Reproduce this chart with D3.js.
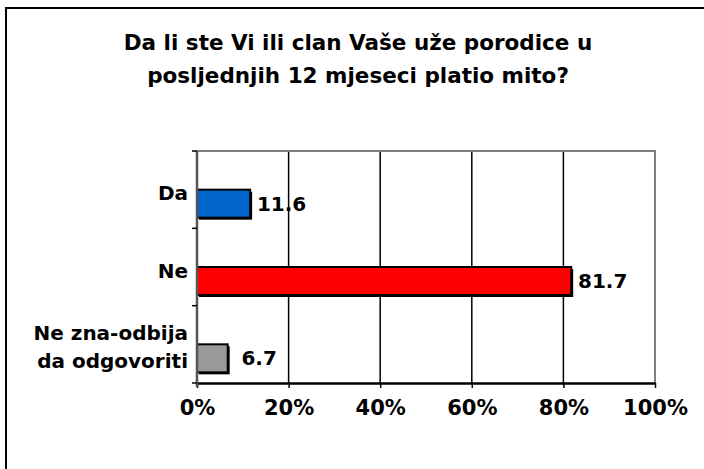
<!DOCTYPE html>
<html><head><meta charset="utf-8">
<script src="https://cdn.jsdelivr.net/npm/d3@7"></script>
<style>body{margin:0;background:#fff}svg{display:block}</style>
</head><body>
<script>
const titleLines = ["Da li ste Vi ili clan Vaše uže porodice u", "posljednjih 12 mjeseci platio mito?"];
const categories = ["Da", "Ne", "Ne zna-odbija\nda odgovoriti"];
const values = [11.6, 81.7, 6.7];
const colors = ["#0066CC", "#FF0000", "#999999"];
const tickValues = [0, 20, 40, 60, 80, 100];
const tickLabels = ["0%", "20%", "40%", "60%", "80%", "100%"];

const W = 704, H = 469;
const svg = d3.select("body").append("svg").attr("width", W).attr("height", H);
svg.append("rect").attr("width", W).attr("height", H).attr("fill", "#fff");
// outer frame (extends beyond view on right/bottom)
svg.append("rect").attr("x", 6).attr("y", 8).attr("width", 760).attr("height", 500)
  .attr("fill", "none").attr("stroke", "#000").attr("stroke-width", 2);

const m = {left: 197, right: 655, top: 151, bottom: 383};
const x = d3.scaleLinear().domain([0, 100]).range([m.left, m.right]);
const y = d3.scaleBand().domain(categories).range([m.top, m.bottom]).padding(0);

// title
const title = svg.append("text").attr("text-anchor", "middle")
  .attr("font-family", "'DejaVu Sans', Verdana, sans-serif")
  .attr("font-weight", "bold").attr("font-size", 21.5).attr("fill", "#000");
titleLines.forEach((t, i) => title.append("tspan").attr("x", 358).attr("y", 50 + i * 33).text(t));

// gridlines
svg.append("g").selectAll("line").data(tickValues.slice(1, -1)).join("line")
  .attr("x1", d => x(d)).attr("x2", d => x(d)).attr("y1", m.top).attr("y2", m.bottom)
  .attr("stroke", "#000").attr("stroke-width", 1.5);
// plot border top/right (gray)
svg.append("path").attr("d", `M${m.left},${m.top}H${m.right}V${m.bottom}`)
  .attr("fill", "none").attr("stroke", "#808080").attr("stroke-width", 2);

// bars with shadow
const bh = 28;
const bars = svg.append("g");
categories.forEach((c, i) => {
  const y0 = y(c) + y.bandwidth() / 2;
  bars.append("rect").attr("x", x(0) + 2).attr("y", y0 + 2).attr("width", x(values[i]) - x(0)).attr("height", bh)
    .attr("fill", "#000");
  bars.append("rect").attr("x", x(0)).attr("y", y0).attr("width", x(values[i]) - x(0)).attr("height", bh)
    .attr("fill", colors[i]).attr("stroke", "#000").attr("stroke-width", 2);
});

// bottom axis
const xAxis = d3.axisBottom(x).tickValues(tickValues).tickFormat((d, i) => tickLabels[i]).tickSize(5).tickSizeOuter(0);
const gx = svg.append("g").attr("transform", `translate(0,${m.bottom})`).call(xAxis);
gx.select(".domain").attr("stroke", "#000").attr("stroke-width", 2.5);
gx.selectAll(".tick line").attr("stroke", "#000").attr("stroke-width", 1.5);
gx.selectAll(".tick text").attr("font-family", "'DejaVu Sans', Verdana, sans-serif")
  .attr("font-weight", "bold").attr("font-size", 21).attr("fill", "#000").attr("dy", null).attr("y", 32);

// left axis
const gy = svg.append("g").attr("transform", `translate(${m.left},0)`);
gy.append("line").attr("x1", 0).attr("x2", 0).attr("y1", m.top).attr("y2", m.bottom + 4)
  .attr("stroke", "#555").attr("stroke-width", 2.5);
const bounds = [m.top, ...categories.map(c => y(c) + y.bandwidth())];
gy.selectAll(".tk").data(bounds).join("line").attr("class", "tk")
  .attr("x1", -5).attr("x2", 0).attr("y1", d => d).attr("y2", d => d)
  .attr("stroke", "#000").attr("stroke-width", 1.5);

// category labels
categories.forEach((c, i) => {
  const lines = c.split("\n");
  const cy = y(c) + y.bandwidth() / 2;
  const t = svg.append("text").attr("text-anchor", "end")
    .attr("font-family", "'DejaVu Sans', Verdana, sans-serif")
    .attr("font-weight", "bold").attr("font-size", 20).attr("fill", "#000");
  const off = lines.length === 1 ? 10.5 : 9.5;
  lines.forEach((l, j) => t.append("tspan").attr("x", 188)
    .attr("y", cy + off + (j - (lines.length - 1) / 2) * 28).text(l));
});

// value labels
categories.forEach((c, i) => {
  svg.append("text").attr("text-anchor", "middle")
    .attr("x", x(values[i]) + 31.5).attr("y", y(c) + y.bandwidth() / 2 + bh / 2 + 7)
    .attr("font-family", "'DejaVu Sans', Verdana, sans-serif")
    .attr("font-weight", "bold").attr("font-size", 20).attr("fill", "#000")
    .text(values[i].toFixed(1));
});
</script>
</body></html>
